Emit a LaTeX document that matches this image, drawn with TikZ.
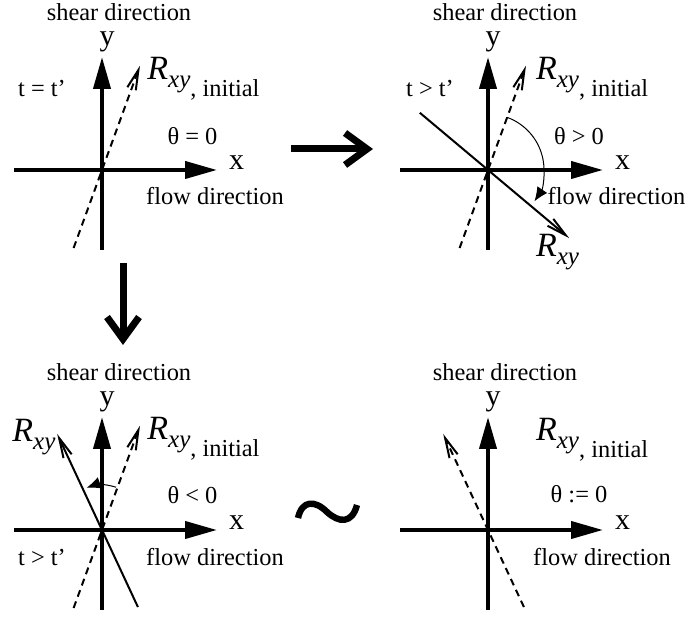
\documentclass[tikz,border=0pt]{standalone}
\usepackage{fontspec}
\setmainfont{Liberation Serif}
\usetikzlibrary{arrows.meta,positioning}
\newcommand{\Rsym}{{\fontsize{17}{18}\selectfont\itshape R}\raisebox{-4pt}{\fontsize{12.5}{14}\selectfont\itshape xy}}
\newcommand{\Rini}{\Rsym\raisebox{-8.5pt}{, initial}}

\begin{document}
\begin{tikzpicture}[x=0.5pt,y=0.5pt,every node/.style={font=\fontsize{12.2}{14}\selectfont,inner sep=0pt},
  axis/.style={line width=2pt,-{Triangle[length=16pt,width=8.5pt]}},
  vec/.style={line width=1pt,-{Straight Barb[length=10pt,width=4.5pt]}},
  dsh/.style={dash pattern=on 3.5pt off 2.5pt},
  turn/.style={line width=0.5pt,-{Latex[length=7pt,width=6pt]}},
  big/.style={line width=3.5pt,-{Straight Barb[length=11pt,width=16pt]}},
  lab/.style={anchor=base,text height=1.2ex,font=\fontsize{15}{16}\selectfont}]
\useasboundingbox (0,0) rectangle (688,619);
% axes and common labels
\foreach \p/\ox/\oy/\fx in {1/102/449/113,2/488/449/128.5,3/102/89/113,4/488/89/114}{
  \begin{scope}[shift={(\ox,\oy)}]
    \coordinate (o\p) at (0,0);
    \coordinate (xa\p) at (-88,0); \coordinate (xb\p) at (115,0);
    \coordinate (ya\p) at (0,-80); \coordinate (yb\p) at (0,113);
    \draw[axis] (xa\p)--(xb\p); \draw[axis] (ya\p)--(yb\p);
    \node[anchor=base](shear\p) at (17,149){shear direction};
    \node[lab](ylab\p) at (5,124){y};
    \node[lab](xlab\p) at (134.5,0){x};
    \node[anchor=base](flow\p) at (\fx,-35){flow direction};
  \end{scope}
}
% t = t'
\begin{scope}[shift={(102,449)}]
  \coordinate (d1a) at (250:83); \coordinate (d1b) at (70:111);
  \draw[vec,dsh] (d1a)--(d1b);
  \node[anchor=base](t1) at (-60,73){t = t’};
  \node[anchor=base](th1) at (90.5,25){θ = 0};
  \node[anchor=base west](r1) at (45,90){\Rini};
\end{scope}
% t > t', theta > 0
\begin{scope}[shift={(488,449)}]
  \coordinate (d2a) at (250:83); \coordinate (d2b) at (70:111);
  \draw[vec,dsh] (d2a)--(d2b);
  \coordinate (s2a) at (140:89); \coordinate (s2b) at (-40:106);
  \draw[vec] (s2a)--(s2b);
  \coordinate (a2) at (70:56);
  \draw[turn] (a2) arc[start angle=70,end angle=-34,radius=56];
  \node[anchor=base](t2) at (-58,73){t > t’};
  \node[anchor=base](th2) at (91,25){θ > 0};
  \node[anchor=base west](r2) at (47.7,90){\Rini};
  \node[anchor=base west](rr2) at (47.7,-86.7){\Rsym};
\end{scope}
% t > t', theta < 0
\begin{scope}[shift={(102,89)}]
  \coordinate (d3a) at (250:83); \coordinate (d3b) at (70:111);
  \draw[vec,dsh] (d3a)--(d3b);
  \coordinate (s3a) at (-65:85); \coordinate (s3b) at (115:106);
  \draw[vec] (s3a)--(s3b);
  \coordinate (a3) at (72:45);
  \draw[turn] (a3) arc[start angle=72,end angle=110,radius=45];
  \node[anchor=base](t3) at (-60,-35){t > t’};
  \node[anchor=base](th3) at (90.5,26){θ < 0};
  \node[anchor=base west](r3) at (45,90){\Rini};
  \node[anchor=base west](rr3) at (-90,88){\Rsym};
\end{scope}
% reset
\begin{scope}[shift={(488,89)}]
  \coordinate (d4a) at (-65:85); \coordinate (d4b) at (115:106);
  \draw[vec,dsh] (d4a)--(d4b);
  \node[anchor=base](th4) at (91,27){θ := 0};
  \node[anchor=base west](r4) at (47.7,89){\Rini};
\end{scope}
% steps
\coordinate (ra) at (291,470); \coordinate (rb) at (373,470);
\coordinate (da) at (123,356); \coordinate (db) at (123,274);
\draw[big] (ra)--(rb); \draw[big] (da)--(db);
\draw[line width=3.2pt] (298,101) .. controls (302,119) and (315,119) .. (327,107) .. controls (339,96) and (352,95) .. (357,114);
\end{tikzpicture}
\end{document}
